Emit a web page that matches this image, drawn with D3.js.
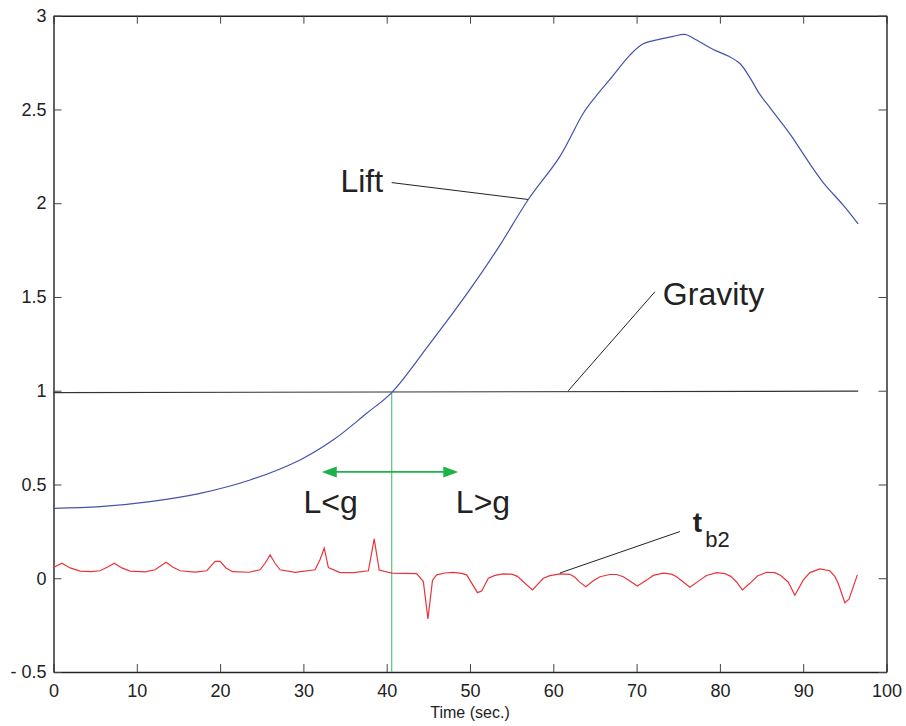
<!DOCTYPE html>
<html>
<head>
<meta charset="utf-8">
<script src="https://cdn.jsdelivr.net/npm/d3@7"></script>
<style>
  body { margin: 0; background: #fff; }
  svg text { font-family: "Liberation Sans", Arial, sans-serif; fill: #222; }
</style>
</head>
<body>
<svg width="906" height="726"></svg>
<script>
"use strict";

// lift curve (blue)
var liftTime = [0, 5.6, 11.6, 17.6, 23.6, 29.6, 33.6, 37.6, 40.6, 45, 50, 53.5, 57, 60.8, 63.6, 65.2, 66.8, 69.2, 70.8, 72.8, 74.4, 75.8, 77.2, 79.2, 81, 82.4, 83.6, 84.8, 86, 88.4, 90.8, 92.4, 94.8, 96.6];
var liftValues = [0.373, 0.382, 0.409, 0.453, 0.524, 0.631, 0.738, 0.88, 0.99, 1.24, 1.54, 1.77, 2.02, 2.25, 2.48, 2.575, 2.66, 2.79, 2.85, 2.875, 2.89, 2.90, 2.87, 2.82, 2.785, 2.745, 2.67, 2.58, 2.51, 2.37, 2.21, 2.11, 1.99, 1.89];

// gravity (black)
var gravityTime = [0, 96.6];
var gravityValues = [0.99, 0.998];

// t_b2 (red)
var tb2Time = [0, 1.0, 2.0, 3.2, 4.5, 5.6, 6.5, 7.3, 8.2, 9.2, 11, 12.2, 13.5, 14.3, 15.2, 17, 18.4, 19.4, 20.0, 20.7, 21.5, 23.5, 24.8, 25.4, 26.0, 26.6, 27.2, 29, 31.4, 32.0, 32.5, 33.0, 34.4, 36, 37.8, 38.5, 39.1, 40.6, 43.6, 44.4, 44.95, 45.5, 46, 47, 48, 49, 49.6, 50.9, 51.4, 52.2, 53, 54, 55, 55.7, 56.3, 57.5, 58.8, 59.6, 60.8, 62, 62.6, 63.1, 63.9, 64.8, 65.6, 66.8, 67.6, 68.4, 69, 70.1, 71.2, 72, 73.2, 74.2, 74.8, 75.6, 76.4, 77.6, 78.4, 79.6, 80.6, 81.3, 82, 82.7, 83.6, 84.5, 85.6, 86.6, 87.3, 88.2, 89, 90, 90.8, 92, 93.2, 93.8, 94.2, 95, 95.5, 96.5];
var tb2Values = [0.057, 0.08, 0.055, 0.038, 0.035, 0.04, 0.06, 0.08, 0.055, 0.038, 0.034, 0.045, 0.085, 0.06, 0.04, 0.033, 0.04, 0.09, 0.09, 0.055, 0.035, 0.032, 0.045, 0.08, 0.124, 0.08, 0.045, 0.031, 0.045, 0.1, 0.16, 0.057, 0.03, 0.03, 0.04, 0.21, 0.044, 0.027, 0.025, -0.018, -0.217, -0.01, 0.018, 0.028, 0.031, 0.026, 0.018, -0.077, -0.068, 0.0, 0.015, 0.023, 0.022, 0.01, -0.015, -0.062, 0.0, 0.014, 0.023, 0.021, 0.005, -0.018, -0.045, -0.013, 0.008, 0.02, 0.02, 0.008, -0.01, -0.041, -0.01, 0.015, 0.027, 0.022, 0.008, -0.02, -0.048, -0.01, 0.015, 0.03, 0.025, 0.01, -0.02, -0.062, -0.027, 0.012, 0.032, 0.03, 0.015, -0.02, -0.091, -0.01, 0.03, 0.05, 0.04, 0.01, -0.027, -0.13, -0.112, 0.018];

// crossing time where lift meets gravity
var crossTime = 40.6;

var xTicks = [0, 10, 20, 30, 40, 50, 60, 70, 80, 90, 100];
var yTicks = [-0.5, 0, 0.5, 1, 1.5, 2, 2.5, 3];
var yTickLabels = ["- 0.5", "0", "0.5", "1", "1.5", "2", "2.5", "3"];

window.onload = renderMyChart;

function renderMyChart() {
    var svg = d3.select("svg"),
        margin = { top: 15.7, right: 19.5, bottom: 54, left: 53.5 },
        width = +svg.attr("width") - margin.left - margin.right,
        height = +svg.attr("height") - margin.top - margin.bottom;

    var x = d3.scaleLinear().domain([0, 100]).range([0, width]),
        y = d3.scaleLinear().domain([-0.5, 3]).range([height, 0]);

    var g = svg.append("g")
        .attr("transform", "translate(" + margin.left + "," + margin.top + ")");

    // axes, ticks inward on all four sides (matlab box)
    var tickLen = 8;
    g.append("g")
        .attr("transform", "translate(0," + height + ")")
        .call(d3.axisBottom(x).tickValues(xTicks).tickSizeInner(-tickLen).tickSizeOuter(0).tickPadding(12))
        .call(styleAxis);
    g.append("g")
        .call(d3.axisTop(x).tickValues(xTicks).tickSizeInner(-tickLen).tickSizeOuter(0).tickFormat(""))
        .call(styleAxis);
    g.append("g")
        .call(d3.axisLeft(y).tickValues(yTicks).tickSizeInner(-tickLen).tickSizeOuter(0).tickPadding(7)
            .tickFormat(function (d, i) { return yTickLabels[i]; }))
        .call(styleAxis);
    g.append("g")
        .attr("transform", "translate(" + width + ",0)")
        .call(d3.axisRight(y).tickValues(yTicks).tickSizeInner(-tickLen).tickSizeOuter(0).tickFormat(""))
        .call(styleAxis);

    function styleAxis(sel) {
        sel.select(".domain").attr("stroke", "#222").attr("stroke-width", 1.4);
        sel.selectAll(".tick line").attr("stroke", "#444").attr("stroke-width", 1);
        sel.selectAll(".tick text")
            .style("font-family", "Liberation Sans, Arial, sans-serif")
            .style("font-size", "18px")
            .attr("fill", "#333");
    }

    g.append("text")
        .attr("x", width / 2)
        .attr("y", height + 46)
        .attr("text-anchor", "middle")
        .style("font-size", "16px")
        .text("Time (sec.)");

    var line = d3.line()
        .x(function (d) { return x(d[0]); })
        .y(function (d) { return y(d[1]); });

    // gravity
    g.append("path")
        .datum(d3.zip(gravityTime, gravityValues))
        .attr("fill", "none")
        .attr("stroke", "#333")
        .attr("stroke-width", 1.2)
        .attr("d", line);

    // green crossing marker
    g.append("line")
        .attr("x1", x(crossTime)).attr("x2", x(crossTime))
        .attr("y1", y(0.99)).attr("y2", y(-0.5))
        .attr("stroke", "#5cc27a")
        .attr("stroke-width", 1.2);

    // lift
    g.append("path")
        .datum(d3.zip(liftTime, liftValues))
        .attr("fill", "none")
        .attr("stroke", "#4452a8")
        .attr("stroke-width", 1.2)
        .attr("d", line.curve(d3.curveCatmullRom.alpha(0.5)));

    // t_b2
    g.append("path")
        .datum(d3.zip(tb2Time, tb2Values))
        .attr("fill", "none")
        .attr("stroke", "#e8343c")
        .attr("stroke-width", 1.2)
        .attr("d", line.curve(d3.curveLinear));

    // double arrow
    var arrowY = y(0.567), ax1 = x(32.2), ax2 = x(48.6), headL = 15, headW = 5.5;
    g.append("line")
        .attr("x1", ax1 + headL - 2).attr("x2", ax2 - headL + 2)
        .attr("y1", arrowY).attr("y2", arrowY)
        .attr("stroke", "#1db24a").attr("stroke-width", 1.6);
    g.append("path")
        .attr("fill", "#1db24a")
        .attr("d", "M" + ax1 + "," + arrowY + "L" + (ax1 + headL) + "," + (arrowY - headW) + "L" + (ax1 + headL) + "," + (arrowY + headW) + "Z");
    g.append("path")
        .attr("fill", "#1db24a")
        .attr("d", "M" + ax2 + "," + arrowY + "L" + (ax2 - headL) + "," + (arrowY - headW) + "L" + (ax2 - headL) + "," + (arrowY + headW) + "Z");

    // annotation pointers
    var pointers = [
        [[40.6, 2.11], [56.96, 2.02]],
        [[72.2, 1.528], [61.8, 1.0]],
        [[75.2, 0.249], [60.8, 0.028]]
    ];
    pointers.forEach(function (p) {
        g.append("line")
            .attr("x1", x(p[0][0])).attr("y1", y(p[0][1]))
            .attr("x2", x(p[1][0])).attr("y2", y(p[1][1]))
            .attr("stroke", "#222").attr("stroke-width", 1);
    });

    var labels = [
        { t: 34.45, v: 2.06, text: "Lift" },
        { t: 73.15, v: 1.458, text: "Gravity" },
        { t: 30.0, v: 0.35, text: "L<g" },
        { t: 48.3, v: 0.35, text: "L>g" }
    ];
    labels.forEach(function (d) {
        g.append("text")
            .attr("x", x(d.t)).attr("y", y(d.v))
            .style("font-size", "32px")
            .text(d.text);
    });

    var tb = g.append("text")
        .attr("x", x(76.75)).attr("y", y(0.249))
        .style("font-size", "28px");
    tb.append("tspan").style("font-weight", "bold").text("t");
    tb.append("tspan").attr("dx", 3).attr("dy", 15).style("font-size", "22px").text("b2");
}
</script>
</body>
</html>
